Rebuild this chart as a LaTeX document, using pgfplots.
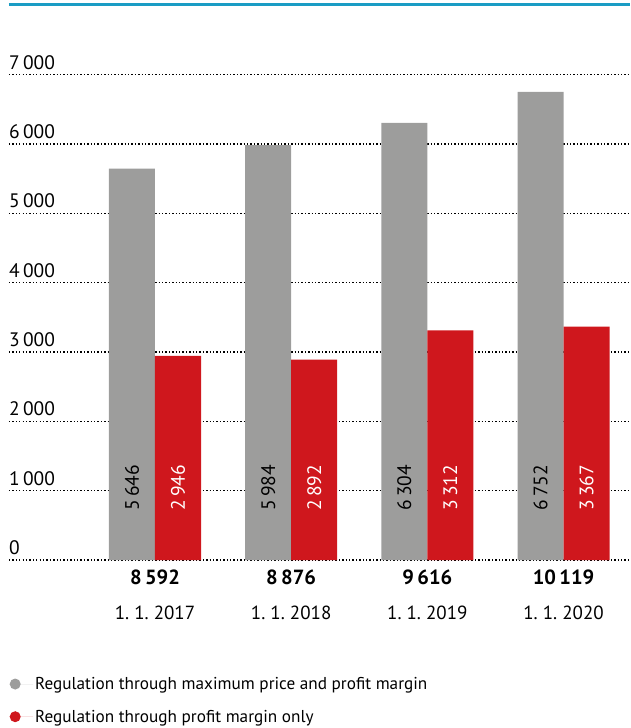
\documentclass[border=0pt]{standalone}
\usepackage{pgfplots}
\pgfplotsset{compat=1.18}
\usepackage{fontspec}
\setmainfont{PT Sans}

\definecolor{barGray}{HTML}{9D9D9C}
\definecolor{barRed}{HTML}{CF171D}
\definecolor{lineTeal}{HTML}{1A9CC4}

% x: 0..3 = 1.1.2017 .. 1.1.2020
\begin{document}
\begin{tikzpicture}
\useasboundingbox (-9pt,-168pt) rectangle (621pt,560pt);
\draw[lineTeal, line width=3pt] (0pt,555pt) -- (621pt,555pt);
\begin{axis}[
  at={(0pt,0pt)}, anchor=south west,
  scale only axis,
  width=621pt, height=485.3pt,
  xmin=-1.072, xmax=3.488,
  ymin=0, ymax=7000,
  axis line style={draw=none},
  tick style={draw=none},
  ytick={0,1000,...,7000},
  ymajorgrids,
  grid style={black, line width=1.3pt, dash pattern=on 1.3pt off 2.1pt},
  /pgf/number format/assume math mode=true,
  /pgf/number format/1000 sep={\,},
  yticklabel style={anchor=south west, inner sep=0pt, xshift=0pt, yshift=5pt, font=\fontsize{19.5}{22}\selectfont},
  xtick={0,1,2,3},
  xticklabels={
    {{\fontsize{20.5}{22}\selectfont\textbf{8\,592}}\\[13pt]1.\ 1.\ 2017},
    {{\fontsize{20.5}{22}\selectfont\textbf{8\,876}}\\[13pt]1.\ 1.\ 2018},
    {{\fontsize{20.5}{22}\selectfont\textbf{9\,616}}\\[13pt]1.\ 1.\ 2019},
    {{\fontsize{20.5}{22}\selectfont\textbf{10\,119}}\\[13pt]1.\ 1.\ 2020}},
  xticklabel style={align=center, font=\fontsize{19}{22}\selectfont, yshift=-6pt},
  legend style={draw=none, at={(0,0)}, anchor=north west, xshift=0pt, yshift=-115pt,
    font=\fontsize{17.2}{21}\selectfont, row sep=15pt, inner sep=0pt,
    nodes={inner sep=2pt}},
  legend cell align=left,
  legend image code/.code={\path (0pt,0pt) -- (24pt,0pt);
    \fill[#1, draw=none] (6pt,0pt) circle (5.5pt);},
  clip=false,
]
\addplot[ybar, bar width=0.338, bar shift=-0.169, fill=barGray, draw=none]
  coordinates {(0,5646) (1,5984) (2,6304) (3,6752)};
\addlegendentry{Regulation through maximum price and profit margin}
\addplot[ybar, bar width=0.338, bar shift=0.169, fill=barRed, draw=none]
  coordinates {(0,2946) (1,2892) (2,3312) (3,3367)};
\addlegendentry{Regulation through profit margin only}
% value labels, written vertically at a fixed height inside the bars
\addplot[only marks, mark=none, forget plot,
  point meta=explicit,
  nodes near coords, nodes near coords align=center,
  every node near coord/.append style={xshift=-23pt, rotate=90, anchor=center, black,
    font=\fontsize{19.5}{22}\selectfont}]
  table[meta=v] {
x y v
0 1040 5646
1 1040 5984
2 1040 6304
3 1040 6752
};
\addplot[only marks, mark=none, forget plot,
  point meta=explicit,
  nodes near coords, nodes near coords align=center,
  every node near coord/.append style={xshift=23pt, rotate=90, anchor=center, white,
    font=\fontsize{19.5}{22}\selectfont}]
  table[meta=v] {
x y v
0 1040 2946
1 1040 2892
2 1040 3312
3 1040 3367
};
\end{axis}
\end{tikzpicture}
\end{document}
